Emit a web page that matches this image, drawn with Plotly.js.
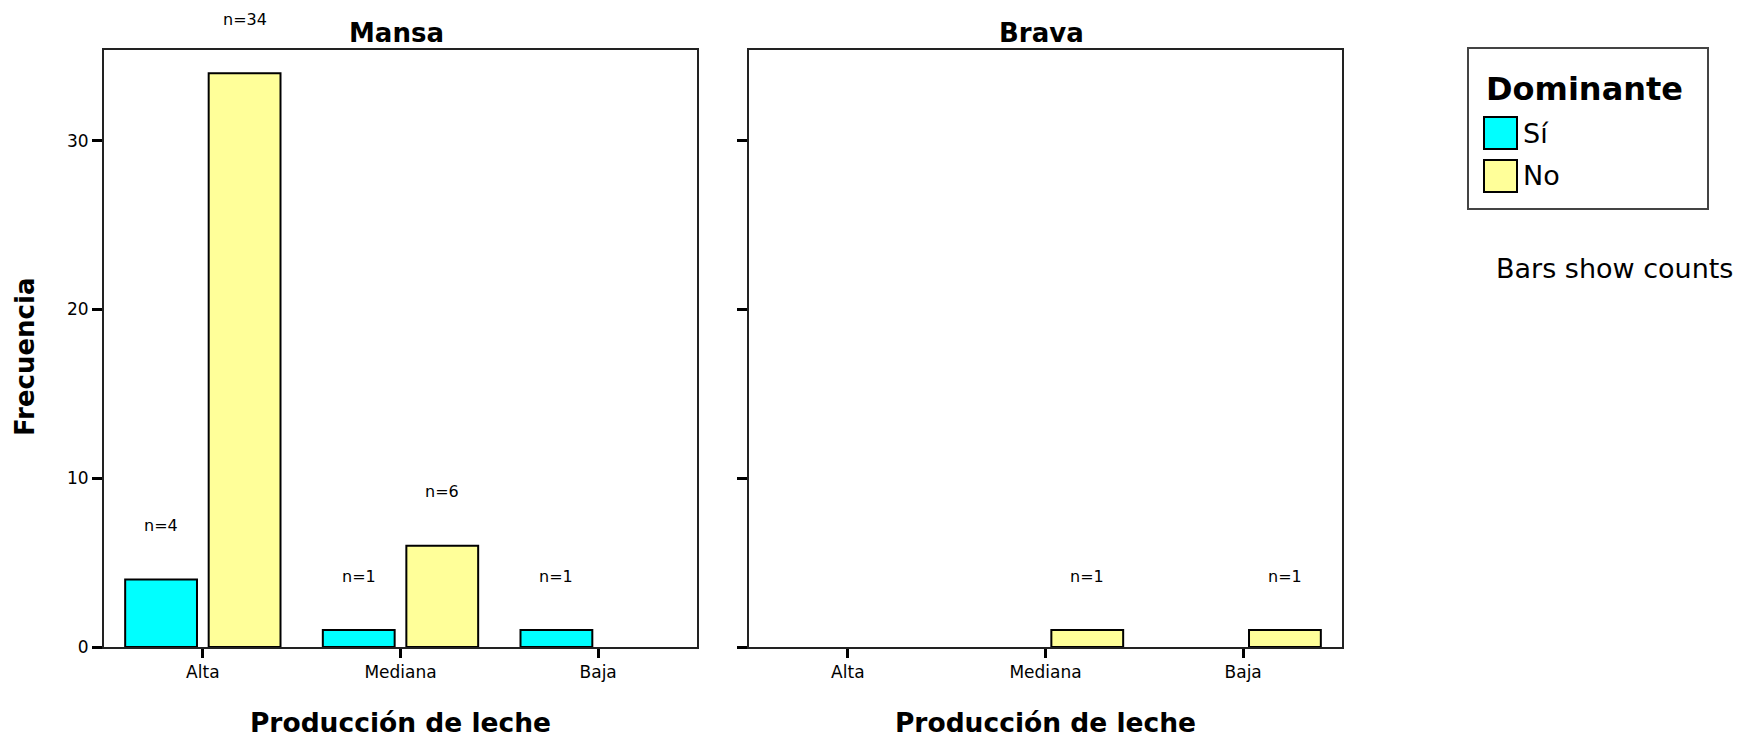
<!DOCTYPE html>
<html>
<head>
<meta charset="utf-8">
<script src="https://cdn.plot.ly/plotly-3.0.1.min.js"></script>
<style>html,body{margin:0;padding:0;background:#fff;}#chart{width:1755px;height:738px;}</style>
</head>
<body>
<div id="chart"></div>
<script>
// ---- data ----
const categories = ['Alta', 'Mediana', 'Baja'];
const panels = ['Mansa', 'Brava'];
const mansaSi = [4, 1, 1];
const mansaNo = [34, 6, 0];
const bravaSi = [0, 0, 0];
const bravaNo = [0, 1, 1];
const yTicks = [0, 10, 20, 30];
const seriesNames = ['Sí', 'No'];
const legendTitle = 'Dominante';
const xTitle = 'Producción de leche';
const yTitle = 'Frecuencia';
const footnote = 'Bars show counts';

// ---- style ----
const FONT = 'DejaVu Sans';
const colSi = '#00FFFF';
const colNo = '#FFFF99';
const bargap = 0.155;
const bargroupgap = 0.14;
const W = 1755, H = 738;

function bar(y, name, color, xa, ya) {
  return {
    type: 'bar', x: categories, y: y, name: name, xaxis: xa, yaxis: ya,
    marker: {color: color, line: {color: '#000', width: y.map(v => v > 0 ? 2 : 0)}},
    showlegend: false, hoverinfo: 'x+y'
  };
}
const data = [
  bar(mansaSi, seriesNames[0], colSi, 'x', 'y'),
  bar(mansaNo, seriesNames[1], colNo, 'x', 'y'),
  bar(bravaSi, seriesNames[0], colSi, 'x2', 'y2'),
  bar(bravaNo, seriesNames[1], colNo, 'x2', 'y2')
];

// n= labels
const off = (1 - bargap) / 4;
const annotations = [];
function nLabels(vals, sign, xref, yref) {
  vals.forEach((v, i) => {
    if (v > 0) annotations.push({
      x: i + sign * off, y: v, xref: xref, yref: yref,
      text: 'n=' + v, showarrow: false, yshift: 54, yanchor: 'middle',
      font: {family: FONT, size: 16, color: '#000'}
    });
  });
}
nLabels(mansaSi, -1, 'x', 'y');
nLabels(mansaNo, 1, 'x', 'y');
nLabels(bravaSi, -1, 'x2', 'y2');
nLabels(bravaNo, 1, 'x2', 'y2');

// panel titles
panels.forEach((p, i) => annotations.push({
  text: '<b>' + p + '</b>', xref: i === 0 ? 'x domain' : 'x2 domain', x: 0.5, xshift: -4,
  yref: 'paper', y: 1 - 33 / H, yanchor: 'middle', showarrow: false,
  font: {family: FONT, size: 26, color: '#000'}
}));

// y-axis title
annotations.push({text: '<b>' + yTitle + '</b>', xref: 'paper', yref: 'paper',
  x: 25 / W, y: 1 - 357 / H, xanchor: 'center', yanchor: 'middle', textangle: -90,
  showarrow: false, font: {family: FONT, size: 26, color: '#000'}});

// manual legend
const lgX0 = 1468 / W, lgX1 = 1708 / W, lgY0 = 1 - 209 / H, lgY1 = 1 - 48 / H;
const shapes = [{type: 'rect', xref: 'paper', yref: 'paper', x0: lgX0, x1: lgX1, y0: lgY0, y1: lgY1,
  line: {color: '#444', width: 2}, fillcolor: 'rgba(0,0,0,0)'}];
annotations.push({text: '<b>' + legendTitle + '</b>', xref: 'paper', yref: 'paper',
  x: 1484 / W, y: 1 - 89 / H, xanchor: 'left', yanchor: 'middle', showarrow: false,
  font: {family: FONT, size: 32, color: '#000'}});
[colSi, colNo].forEach((c, i) => {
  const cy = [133, 176][i];
  shapes.push({type: 'rect', xref: 'paper', yref: 'paper', x0: 1484 / W, x1: 1517 / W,
    y0: 1 - (cy + 16) / H, y1: 1 - (cy - 16) / H, fillcolor: c, line: {color: '#000', width: 2}});
  annotations.push({text: seriesNames[i], xref: 'paper', yref: 'paper', x: 1521 / W, y: 1 - cy / H,
    xanchor: 'left', yanchor: 'middle', showarrow: false, font: {family: FONT, size: 27, color: '#000'}});
});
annotations.push({text: footnote, xref: 'paper', yref: 'paper', x: 1494 / W, y: 1 - 268 / H,
  xanchor: 'left', yanchor: 'middle', showarrow: false, font: {family: FONT, size: 27, color: '#000'}});

const yDom = [1 - 647 / H, 1 - 49.5 / H];
function xax(dom, anchor) {
  return {
    domain: dom, anchor: anchor, type: 'category', range: [-0.5, 2.5],
    showline: true, linecolor: '#222', linewidth: 2, mirror: true,
    ticks: 'outside', ticklen: 9, tickwidth: 3, tickcolor: '#000',
    showgrid: false, zeroline: false, fixedrange: true,
    tickfont: {family: FONT, size: 17, color: '#000'},
    title: {text: '<b>' + xTitle + '</b>', font: {family: FONT, size: 26.5, color: '#000'}, standoff: 34}
  };
}
function yax(anchor, labels) {
  return {
    domain: yDom, anchor: anchor, range: [0, 35.4], tickvals: yTicks, showticklabels: labels,
    showline: true, linecolor: '#222', linewidth: 2, mirror: true,
    ticks: 'outside', ticklen: 10, tickwidth: 3, tickcolor: '#000',
    showgrid: false, zeroline: false, fixedrange: true,
    tickfont: {family: FONT, size: 17, color: '#000'}
  };
}

const layout = {
  width: W, height: H, margin: {l: 0, r: 0, t: 0, b: 0},
  paper_bgcolor: '#fff', plot_bgcolor: '#fff',
  barmode: 'group', bargap: bargap, bargroupgap: bargroupgap,
  showlegend: false,
  xaxis: xax([104 / W, 697 / W], 'y'),
  xaxis2: xax([749 / W, 1342 / W], 'y2'),
  yaxis: yax('x', true),
  yaxis2: yax('x2', false),
  annotations: annotations, shapes: shapes
};
Plotly.newPlot('chart', data, layout, {displayModeBar: false, staticPlot: true});
</script>
</body>
</html>
